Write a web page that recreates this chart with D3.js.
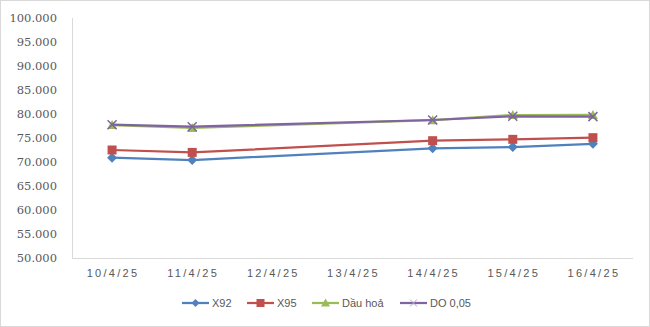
<!DOCTYPE html>
<html><head><meta charset="utf-8">
<script src="https://cdn.jsdelivr.net/npm/d3@7"></script>
<style>body{margin:0;background:#fff}svg{display:block}
.ylab{font-family:"DejaVu Serif",serif;font-size:11.5px}
.sans{font-family:"Liberation Sans",Arial,sans-serif;font-size:11px}
</style>
</head><body>
<script>
const categories = ["10/4/25","11/4/25","12/4/25","13/4/25","14/4/25","15/4/25","16/4/25"];
const seriesNames = ["X92","X95","Dầu hoả","DO 0,05"];
const x92 = [70900, 70400, null, null, 72850, 73120, 73800];
const x95 = [72500, 72000, null, null, 74440, 74720, 75070];
const dauHoa = [77700, 77100, null, null, 78700, 79790, 79800];
const do005 = [77780, 77350, null, null, 78750, 79520, 79450];
const yTicks = [50000,55000,60000,65000,70000,75000,80000,85000,90000,95000,100000];

(function(){
const colors = ["#4F81BD","#C0504D","#9BBB59","#8064A2"];
const markers = ["diamond","square","triangle","x"];
const allSeries = [x92, x95, dauHoa, do005];

const W = 650, H = 327;
const svg = d3.select("body").append("svg").attr("width", W).attr("height", H);
svg.append("rect").attr("x",0.5).attr("y",0.5).attr("width",W-1).attr("height",H-1)
  .attr("fill","#fff").attr("stroke","#d9d9d9");

const pL = 72, pR = 633, pT = 18, pB = 258;
const x = d3.scaleBand().domain(categories).range([pL, pR]);
const y = d3.scaleLinear().domain([50000,100000]).range([pB, pT]);

svg.append("line").attr("x1",pL+0.5).attr("x2",pL+0.5).attr("y1",pT).attr("y2",pB)
  .attr("stroke","#d9d9d9");
svg.append("line").attr("x1",pL).attr("x2",pR).attr("y1",pB+0.5).attr("y2",pB+0.5)
  .attr("stroke","#d9d9d9");

svg.append("g").selectAll("text").data(yTicks).join("text")
  .attr("class","ylab")
  .attr("x", 57).attr("y", d => y(d)).attr("dy","0.35em")
  .attr("text-anchor","end")
  .attr("fill","#595959").text(d => (d/1000).toFixed(3));

svg.append("g").selectAll("text").data(categories).join("text")
  .attr("class","sans")
  .attr("x", d => x(d) + x.bandwidth()/2 + 1).attr("y", 277)
  .attr("text-anchor","middle")
  .attr("letter-spacing","2.3px")
  .attr("fill","#595959").text(d => d);

function drawMarker(g, type, cx, cy, color) {
  if (type === "diamond") {
    g.append("path").attr("d", `M${cx},${cy-5}L${cx+5},${cy}L${cx},${cy+5}L${cx-5},${cy}Z`).attr("fill", color);
  } else if (type === "square") {
    g.append("rect").attr("x", cx-4.5).attr("y", cy-4.5).attr("width",9).attr("height",9).attr("fill", color);
  } else if (type === "triangle") {
    g.append("path").attr("d", `M${cx},${cy-5}L${cx+5},${cy+4}L${cx-5},${cy+4}Z`).attr("fill", color);
  } else {
    g.append("path").attr("d", `M${cx-4.5},${cy-4.5}L${cx+4.5},${cy+4.5}M${cx+4.5},${cy-4.5}L${cx-4.5},${cy+4.5}`)
      .attr("stroke", color).attr("stroke-width",1.5).attr("fill","none");
  }
}

const cxf = d => x(d) + x.bandwidth()/2;
allSeries.forEach((vals, i) => {
  const pts = categories.map((c, j) => ({c, v: vals[j]})).filter(p => p.v != null);
  const line = d3.line().x(p => cxf(p.c)).y(p => y(p.v));
  const g = svg.append("g");
  g.append("path").attr("d", line(pts)).attr("fill","none")
    .attr("stroke", colors[i]).attr("stroke-width", 2.25).attr("stroke-linejoin","round");
  pts.forEach(p => drawMarker(g, markers[i], cxf(p.c), y(p.v), colors[i]));
});

const legX = [182, 247, 312, 400];
const legY = 303;
seriesNames.forEach((name, i) => {
  const g = svg.append("g");
  g.append("line").attr("x1", legX[i]).attr("x2", legX[i]+27).attr("y1", legY).attr("y2", legY)
    .attr("stroke", colors[i]).attr("stroke-width", 2.25);
  const m = g.append("g");
  const cx = legX[i]+13.5;
  if (markers[i] === "x") {
    m.append("path").attr("d", `M${cx-3.5},${legY-3.5}L${cx+3.5},${legY+3.5}M${cx+3.5},${legY-3.5}L${cx-3.5},${legY+3.5}`)
      .attr("stroke","#b0a5c0").attr("stroke-width",1);
  } else if (markers[i] === "diamond") {
    m.append("path").attr("d", `M${cx},${legY-4}L${cx+4},${legY}L${cx},${legY+4}L${cx-4},${legY}Z`).attr("fill", colors[i]);
  } else if (markers[i] === "square") {
    m.append("rect").attr("x", cx-4).attr("y", legY-4).attr("width",8).attr("height",8).attr("fill", colors[i]);
  } else {
    m.append("path").attr("d", `M${cx},${legY-4.5}L${cx+4.5},${legY+3.5}L${cx-4.5},${legY+3.5}Z`).attr("fill", colors[i]);
  }
  g.append("text").attr("class","sans").attr("x", legX[i]+30).attr("y", legY).attr("dy","0.35em")
    .attr("fill","#595959").text(name);
});
})();
</script>
</body></html>
